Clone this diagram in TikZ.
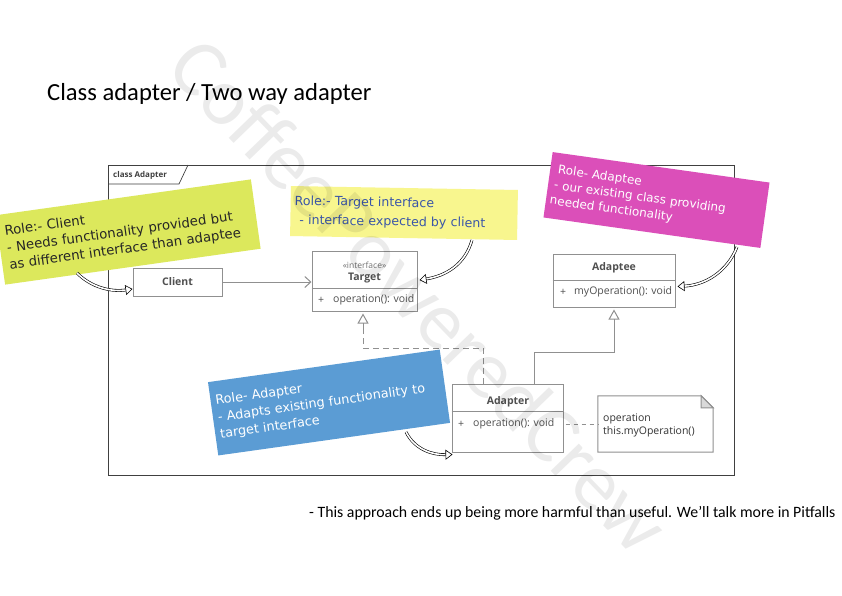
\documentclass[tikz,border=0pt]{standalone}
\usepackage{fontspec}
\setmainfont{Carlito}
\newfontfamily\umlfont{Open Sans}
\newfontfamily\handfont{DejaVu Sans}
\usetikzlibrary{arrows.meta,calc}
\definecolor{clientnote}{HTML}{DCE85C}
\definecolor{targetnote}{HTML}{F8F68E}
\definecolor{adapteenote}{HTML}{DB4FB9}
\definecolor{adapternote}{HTML}{5B9CD4}
\definecolor{umlline}{HTML}{909090}
\definecolor{umltext}{HTML}{505050}
\definecolor{targettext}{HTML}{3A56A8}
\definecolor{framecol}{HTML}{404040}
\begin{document}
\begin{tikzpicture}[x=1pt,y=-1pt,
  umlbox/.style={draw=umlline, fill=white, line width=1pt, inner sep=0pt},
  umledge/.style={draw=umlline, line width=1pt},
  umlname/.style={font=\umlfont\bfseries\fontsize{10.5}{12}\selectfont, text=umltext, inner sep=0pt},
  umlattr/.style={font=\umlfont\fontsize{10.5}{12}\selectfont, text=umltext, inner sep=0pt, anchor=west},
  notebox/.style={inner sep=6pt, align=left, anchor=center},
  hollowarrow/.style={draw=black, line width=0.6pt, double=white, double distance=1.6pt,
     -{Triangle[open, length=7pt, width=10pt]}},
]
\useasboundingbox[fill=white] (0,0) rectangle (842,595);

% title
\node[anchor=base west, inner sep=0pt, font=\fontsize{24.6}{28}\selectfont] (title) at (47,100) {Class adapter / Two way adapter};

% frame
\draw[framecol, line width=0.9pt] (108,165) rectangle (734,475);
\draw[framecol, line width=0.7pt] (108,184) -- (179,184) -- (188,165);
\node[anchor=west, inner sep=0pt, font=\umlfont\bfseries\fontsize{8}{9}\selectfont, text=framecol] (framelabel) at (113,175.5) {class Adapter};

% classes
\node[umlbox, minimum width=89pt, minimum height=28pt, font=\umlfont\bfseries\fontsize{10.5}{12}\selectfont, text=umltext] (client) at (177.5,282) {Client};

\node[umlbox, minimum width=105pt, minimum height=60pt] (target) at (364.5,281) {};
\draw[umledge] ($(target.west)+(0,7)$) -- ($(target.east)+(0,7)$);
\node[font=\umlfont\fontsize{8.5}{9}\selectfont, text=umltext!80, inner sep=0pt] (targetst) at (364.5,265.5) {«interface»};
\node[umlname] (targetname) at (364.5,278.5) {Target};
\node[umlattr] (targetplus) at (318,300) {+};
\node[umlattr] (targetop) at (333,300) {operation(): void};

\node[umlbox, minimum width=122pt, minimum height=53pt] (adaptee) at (614,280.5) {};
\draw[umledge] ($(adaptee.west)+(0,0)$) -- ($(adaptee.east)+(0,0)$);
\node[umlname] (adapteename) at (614,268) {Adaptee};
\node[umlattr] (adapteeplus) at (560,292) {+};
\node[umlattr] (adapteeop) at (574,292) {myOperation(): void};

\node[umlbox, minimum width=111pt, minimum height=68pt] (adapter) at (507.5,418) {};
\draw[umledge] ($(adapter.west)+(0,-7)$) -- ($(adapter.east)+(0,-7)$);
\node[umlname] (adaptername) at (508,402) {Adapter};
\node[umlattr] (adapterplus) at (458,424) {+};
\node[umlattr] (adapterop) at (473,424) {operation(): void};

% note
\node[minimum width=115pt, minimum height=56pt, inner sep=0pt] (note) at (655.5,424) {};
\draw[umledge, fill=white] (note.north west) -- ($(note.north east)+(-12,0)$) -- ($(note.north east)+(0,12)$) -- (note.south east) -- (note.south west) -- cycle;
\draw[umledge, fill=gray!30] ($(note.north east)+(-12,0)$) -- ($(note.north east)+(-12,12)$) -- ($(note.north east)+(0,12)$) -- cycle;
\node[anchor=west, inner sep=0pt, align=left, font=\umlfont\fontsize{10.5}{13}\selectfont, text=black!80] (notetext) at (603,425.5) {operation\\this.myOperation()};

% connectors
\draw[umledge, -{Straight Barb[length=6pt, width=11pt]}] (client.east) -- (client.east -| target.west);
\coordinate (rA) at ($(adapter.north west)+(32,0)$);
\draw[umledge, dash pattern=on 6pt off 4pt] (rA) -- ($(rA)+(0,-35)$) -| ($(target.south)+(-1.5,16)$);
\draw[umledge, -{Triangle[open, length=10pt, width=11pt]}] ($(target.south)+(-1.5,16)$) -- ($(target.south)+(-1.5,2)$);
\coordinate (gA) at ($(adapter.north west)+(83,0)$);
\draw[umledge, -{Triangle[open, length=10pt, width=11pt]}] (gA) -- ($(gA)+(0,-31)$) -| ($(adaptee.south)+(0,2)$);
\draw[umledge, dash pattern=on 4pt off 4pt] ($(adapter.east)+(2,6)$) -- (note.west);

% sticky notes
\node[notebox, fill=clientnote, rotate=8, minimum width=258pt, minimum height=70pt, text width=244pt, inner sep=7pt,
  font=\handfont\fontsize{13.3}{17}\selectfont, text=black!85] (clientnote) at (128,232)
  {Role:- Client\\- Needs functionality provided but\\as different interface than adaptee};

\node[notebox, fill=targetnote, rotate=-1, minimum width=227pt, minimum height=50pt, text width=219pt, inner sep=4pt,
  font=\handfont\fontsize{12.6}{19}\selectfont, text=targettext] (targetnote) at (404,213)
  {Role:- Target interface\\\hspace*{5pt}- interface expected by client};

\node[notebox, fill=adapteenote, rotate=-8, minimum width=219pt, minimum height=66pt, text width=211pt, inner sep=4pt,
  font=\handfont\fontsize{12}{15.5}\selectfont, text=white] (adapteenote) at (656.5,200)
  {\hspace*{4pt}Role- Adaptee\\\hspace*{2pt}- our existing class providing\\needed functionality};

\node[notebox, fill=adapternote, rotate=8, minimum width=234pt, minimum height=74pt, text width=224pt, inner sep=5pt,
  font=\handfont\fontsize{12.8}{17}\selectfont, text=white] (adapternote) at (329,402.5)
  {Role- Adapter\\- Adapts existing functionality to\\target interface};

% hollow curved arrows
\coordinate (cs) at (77,273);
\draw[hollowarrow] (cs) .. controls (92,288) and (112,292) .. ($(client.west)+(0,7)$);
\coordinate (ts) at (472,240);
\draw[hollowarrow] (ts) .. controls (465,265) and (445,276) .. ($(target.east)+(2,-1)$);
\coordinate (as) at (737,247);
\draw[hollowarrow] (as) .. controls (727,272) and (705,285) .. ($(adaptee.east)+(2,6)$);
\coordinate (ds) at (406,432);
\draw[hollowarrow] (ds) .. controls (415,450) and (433,455) .. ($(adapter.south west)+(1,2)$);

% bottom remark
\node[anchor=base west, inner sep=0pt, font=\fontsize{15.8}{18}\selectfont] (remark) at (309,517)
  {- This approach ends up being more harmful than useful. We’ll talk more in Pitfalls};

% watermark
\node[rotate=-46, font=\fontsize{82}{82}\selectfont, text=black, opacity=0.08, inner sep=0pt] (watermark) at (420,295) {CoffeePoweredCrew};
\end{tikzpicture}
\end{document}
